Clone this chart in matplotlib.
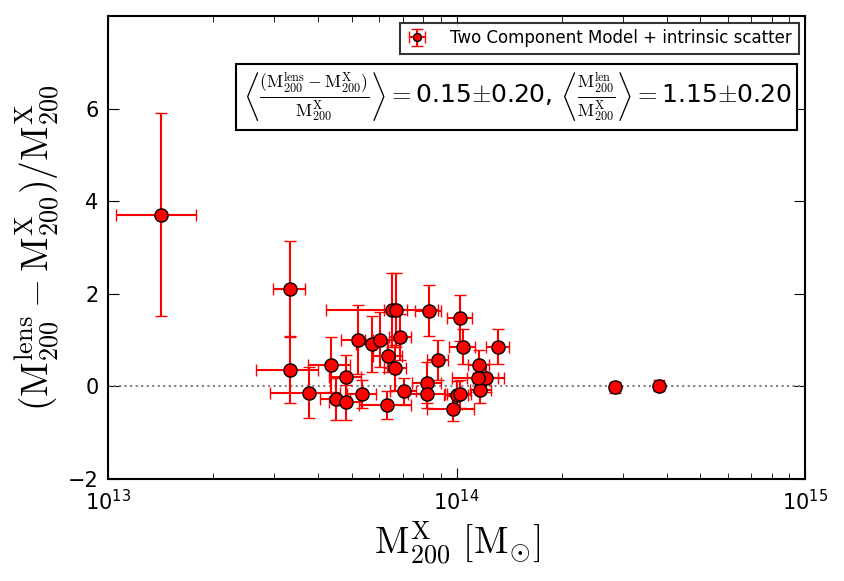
import matplotlib
matplotlib.use("Agg")
import matplotlib.pyplot as plt
import numpy as np

# masses in units of 1e13 Msun
m_x = [3.33, 3.33, 3.76, 4.35, 4.50, 4.81, 4.81, 5.22, 5.35, 5.73, 6.04, 6.30,
       6.35, 6.52, 6.70, 6.67, 6.89, 7.05, 8.24, 8.24, 8.30, 8.81, 9.73, 10.0,
       10.2, 10.2, 10.4, 11.6, 11.7, 12.1, 11.7, 13.1, 11.5, 1.42, 28.5, 38.1]
m_x_err = [0.35, 0.68, 0.85, 0.6, 0.45, 0.5, 0.5, 0.55, 0.5, 0.6, 0.6, 1.07,
           0.6, 2.3, 0.5, 0.5, 0.5, 0.6, 0.8, 1.0, 0.7, 0.6, 1.5, 0.8,
           0.8, 0.85, 0.9, 0.8, 2.0, 1.0, 0.8, 1.0, 0.8, 0.37, 0.5, 0.5]
ratio = [2.11, 0.35, -0.14, 0.47, -0.27, 0.20, -0.34, 1.01, -0.17, 0.91, 1.01, -0.40,
         0.65, 1.64, 1.64, 0.40, 1.07, -0.11, 0.08, -0.17, 1.63, 0.57, -0.48, -0.18,
         -0.16, 1.48, 0.86, 0.47, 0.19, 0.18, -0.07, 0.86, 0.18, 3.71, -0.02, 0.01]
ratio_err = [1.02, 0.72, 0.55, 0.6, 0.45, 0.48, 0.38, 0.75, 0.3, 0.6, 0.6, 0.3,
             0.35, 0.8, 0.8, 0.5, 0.5, 0.3, 0.45, 0.3, 0.55, 0.43, 0.27, 0.3,
             0.3, 0.5, 0.38, 0.32, 0.3, 0.3, 0.3, 0.38, 0.3, 2.19, 0.12, 0.12]

x = np.array(m_x) * 1e13
xerr = np.array(m_x_err) * 1e13

plt.rcParams['xtick.direction'] = 'in'
plt.rcParams['ytick.direction'] = 'in'
plt.rcParams['xtick.top'] = True
plt.rcParams['ytick.right'] = True
plt.rcParams['xtick.major.size'] = 8
plt.rcParams['ytick.major.size'] = 8
plt.rcParams['xtick.minor.size'] = 4
plt.rcParams['ytick.minor.size'] = 4
plt.rcParams['xtick.major.pad'] = 7
plt.rcParams['ytick.major.pad'] = 7
plt.rcParams['axes.linewidth'] = 1.5
plt.rcParams['mathtext.fontset'] = 'dejavusans'

fig = plt.figure(figsize=(8.45, 5.81), dpi=100)
ax = fig.add_axes([0.128, 0.1756, 0.825, 0.797])

ax.axhline(0, color='grey', ls=':', lw=1.5)
ax.errorbar(x, ratio, xerr=xerr, yerr=ratio_err, fmt='o', color='red', ecolor='red',
            mec='black', mew=1, ms=9.5, elinewidth=1.5, capsize=4, capthick=1.5,
            label='Two Component Model + intrinsic scatter')

ax.set_xscale('log')
ax.set_xlim(1e13, 1e15)
ax.set_ylim(-2, 8)
ax.set_yticks([-2, 0, 2, 4, 6])
ax.tick_params(labelsize=15)

ax.set_xlabel(r'$\mathrm{M_{200}^{X}}\ [\mathrm{M_{\odot}}]$', fontsize=27, math_fontfamily='cm')
ax.set_ylabel(r'$(\mathrm{M_{200}^{lens}}-\mathrm{M_{200}^{X}})/\mathrm{M_{200}^{X}}$',
              fontsize=27, math_fontfamily='cm', labelpad=4)

leg = ax.legend(loc='upper right', numpoints=1, fontsize=12, fancybox=False,
                borderaxespad=0.4, markerscale=0.6, handlelength=1.2, handletextpad=1.4)
leg.get_frame().set_edgecolor('black')
leg.get_frame().set_linewidth(1.5)

txt = (r'$\left\langle\frac{(\mathrm{M_{200}^{lens}}-\mathrm{M_{200}^{X}})}{\mathrm{M_{200}^{X}}}\right\rangle=$'
       r'0.15$\pm$0.20, '
       r'$\left\langle\frac{\mathrm{M_{200}^{len}}}{\mathrm{M_{200}^{X}}}\right\rangle=$'
       r'1.15$\pm$0.20')
ax.text(0.586, 0.825, txt, transform=ax.transAxes, ha='center', va='center',
        fontsize=18, math_fontfamily='cm',
        bbox=dict(boxstyle='square,pad=0.25', fc='white', ec='black', lw=1.5))

fig.savefig('out.png', dpi=100)
